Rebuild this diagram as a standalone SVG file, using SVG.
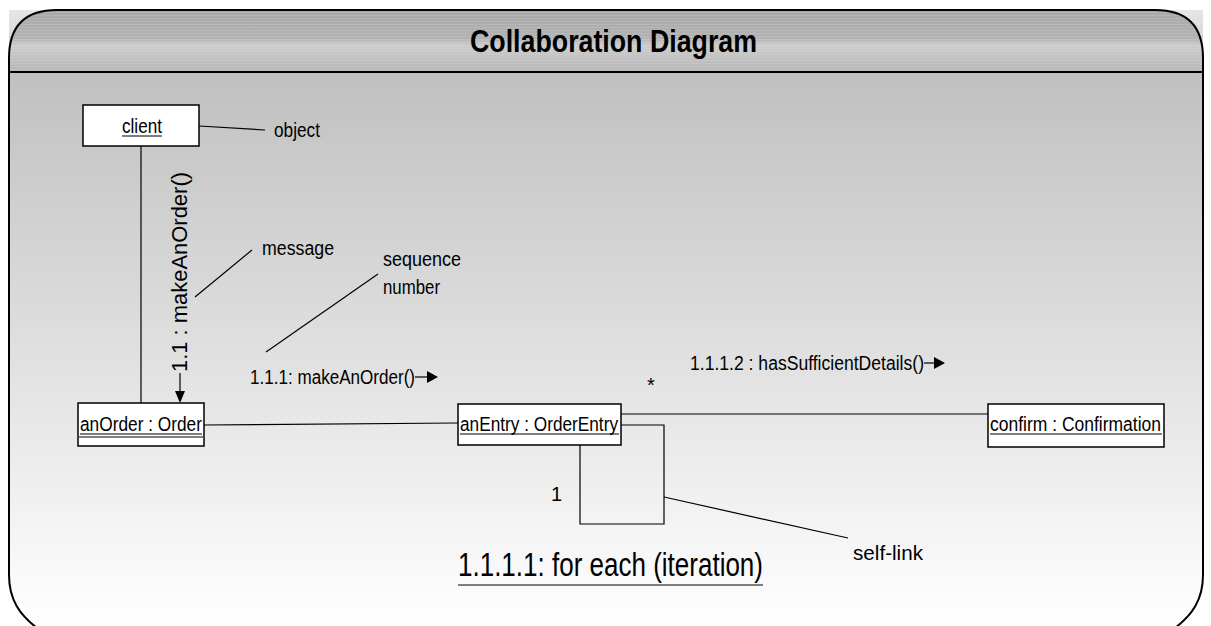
<svg xmlns="http://www.w3.org/2000/svg" width="1211" height="626" viewBox="0 0 1211 626">
<defs>
<linearGradient id="bodyGrad" x1="0" y1="72" x2="0" y2="626" gradientUnits="userSpaceOnUse">
<stop offset="0" stop-color="#c0c0c0"/>
<stop offset="1" stop-color="#ffffff"/>
</linearGradient>
<linearGradient id="headGrad" x1="0" y1="10" x2="0" y2="72" gradientUnits="userSpaceOnUse">
<stop offset="0" stop-color="#a8a8a8"/>
<stop offset="0.45" stop-color="#b2b2b2"/>
<stop offset="0.58" stop-color="#cdcdcd"/>
<stop offset="0.75" stop-color="#c2c2c2"/>
<stop offset="1" stop-color="#b6b6b6"/>
</linearGradient>
<linearGradient id="cornerGrad" x1="0" y1="10" x2="0" y2="72" gradientUnits="userSpaceOnUse">
<stop offset="0" stop-color="#e6e6e6"/>
<stop offset="1" stop-color="#c8c8c8"/>
</linearGradient>
<pattern id="stripes" width="4" height="3" patternUnits="userSpaceOnUse">
<rect width="4" height="1" fill="#ffffff" fill-opacity="0.12"/>
</pattern>
</defs>
<style>
.frame{fill:none;stroke:#000;stroke-width:2}
.box{fill:#fff;stroke:#000;stroke-width:1.5}
.ln{stroke:#000;stroke-width:1.2;fill:none}
.t{font-family:"Liberation Sans",Arial,sans-serif;font-size:20px;fill:#000}
.big{font-family:"Liberation Sans",Arial,sans-serif;font-size:34px;fill:#000}
.title{font-family:"Liberation Sans",Arial,sans-serif;font-size:32px;font-weight:bold;fill:#000}
.arrow{fill:#000}
</style>
<rect x="0" y="0" width="1211" height="626" fill="#ffffff"/>
<rect x="9" y="10" width="1194" height="62" fill="url(#cornerGrad)"/>
<path d="M9,72 H1203 V575 C1203,600 1192,615 1175,628 H37 C20,615 9,600 9,575 Z" fill="url(#bodyGrad)"/>
<path d="M9,72 V58 Q9,10 57,10 H1155 Q1203,10 1203,58 V72 Z" fill="url(#headGrad)"/>
<path d="M9,72 V58 Q9,10 57,10 H1155 Q1203,10 1203,58 V72 Z" fill="url(#stripes)"/>
<path class="frame" d="M37,628 C20,615 9,600 9,575 V58 Q9,10 57,10 H1155 Q1203,10 1203,58 V575 C1203,600 1192,615 1175,628"/>
<line class="frame" x1="9" y1="72" x2="1203" y2="72"/>
<text class="title" x="470" y="52" textLength="287" lengthAdjust="spacingAndGlyphs">Collaboration Diagram</text>

<g id="connectors">
<line class="ln" x1="141" y1="146" x2="141" y2="403"/>
<line class="ln" x1="204" y1="425" x2="458" y2="423"/>
<line class="ln" x1="621" y1="414" x2="988" y2="414"/>
<polyline class="ln" points="621,425 664,425 664,524 580,524 580,445"/>
<line class="ln" x1="199" y1="126" x2="265" y2="130"/>
<line class="ln" x1="195" y1="297" x2="252" y2="250"/>
<line class="ln" x1="266" y1="352" x2="378" y2="274"/>
<line class="ln" x1="664" y1="497" x2="848" y2="538"/>
</g>

<g id="client">
<rect class="box" x="83" y="105" width="116" height="41"/>
<text class="t" x="122" y="133" textLength="40" lengthAdjust="spacingAndGlyphs">client</text>
<line class="ln" x1="122" y1="136" x2="162" y2="136"/>
</g>
<g id="anOrder">
<rect class="box" x="78" y="403" width="126" height="43"/>
<text class="t" x="80" y="431" textLength="122" lengthAdjust="spacingAndGlyphs">anOrder : Order</text>
<line class="ln" x1="80" y1="434" x2="202" y2="434"/>
<line class="ln" x1="79" y1="437" x2="203" y2="437"/>
</g>
<g id="anEntry">
<rect class="box" x="458" y="404" width="163" height="41"/>
<text class="t" x="460" y="431" textLength="158" lengthAdjust="spacingAndGlyphs">anEntry : OrderEntry</text>
<line class="ln" x1="460" y1="434" x2="619" y2="434"/>
</g>
<g id="confirm">
<rect class="box" x="988" y="404" width="176" height="43"/>
<text class="t" x="990" y="431" textLength="171" lengthAdjust="spacingAndGlyphs">confirm : Confirmation</text>
<line class="ln" x1="990" y1="434" x2="1162" y2="434"/>
</g>

<g id="labels">
<text class="t" x="274" y="137" textLength="46" lengthAdjust="spacingAndGlyphs">object</text>
<text class="t" x="262" y="255" textLength="72" lengthAdjust="spacingAndGlyphs">message</text>
<text class="t" x="383" y="266" textLength="78" lengthAdjust="spacingAndGlyphs">sequence</text>
<text class="t" x="383" y="294" textLength="57" lengthAdjust="spacingAndGlyphs">number</text>
<text class="t" x="853" y="560" textLength="70" lengthAdjust="spacingAndGlyphs">self-link</text>
<text class="t" x="647" y="392">*</text>
<text class="t" x="551" y="501">1</text>
</g>

<g id="msg-1-1">
<text class="t" transform="translate(187,372) rotate(-90)" style="font-size:22px" textLength="200" lengthAdjust="spacingAndGlyphs">1.1 : makeAnOrder()</text>
<line class="ln" x1="180" y1="373" x2="180" y2="392"/>
<polygon class="arrow" points="175,391 185,391 180,403"/>
</g>
<g id="msg-1-1-1">
<text class="t" x="250" y="384" textLength="165" lengthAdjust="spacingAndGlyphs">1.1.1: makeAnOrder()</text>
<line class="ln" x1="415" y1="377" x2="428" y2="377"/>
<polygon class="arrow" points="427,371 427,383 438,377"/>
</g>
<g id="msg-1-1-1-2">
<text class="t" x="690" y="370" textLength="234" lengthAdjust="spacingAndGlyphs">1.1.1.2 : hasSufficientDetails()</text>
<line class="ln" x1="924" y1="363" x2="935" y2="363"/>
<polygon class="arrow" points="934,357 934,369 945,363"/>
</g>
<g id="iteration">
<text class="big" x="458" y="576" textLength="305" lengthAdjust="spacingAndGlyphs">1.1.1.1: for each (iteration)</text>
<line class="ln" x1="458" y1="585" x2="763" y2="585"/>
</g>
</svg>
